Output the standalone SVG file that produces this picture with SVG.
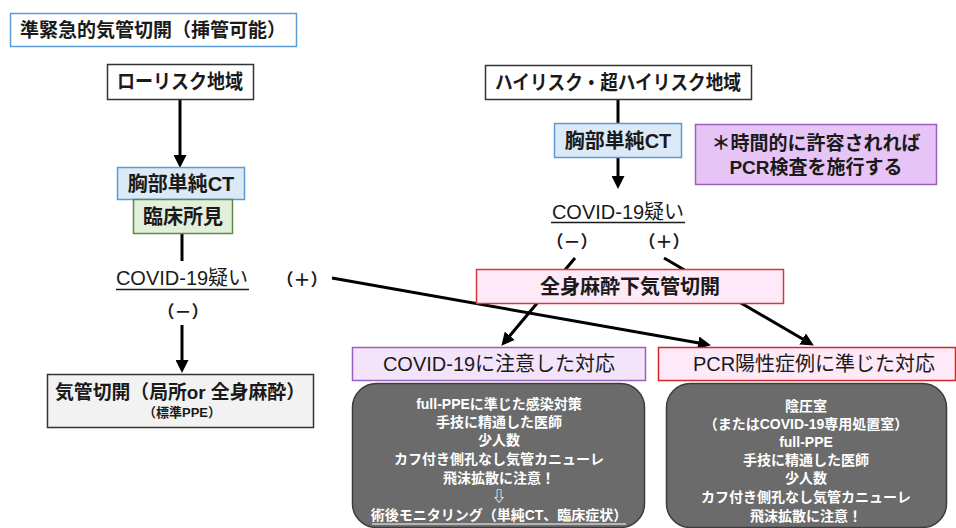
<svg xmlns="http://www.w3.org/2000/svg" width="956" height="528" viewBox="0 0 956 528">
<defs>
<marker id="ah" markerUnits="userSpaceOnUse" markerWidth="13" markerHeight="13" refX="8" refY="6.5" orient="auto">
<path d="M0,0 L13,6.5 L0,13 z" fill="#000"/>
</marker>
<style>
text{font-family:"Liberation Sans","Noto Sans CJK JP",sans-serif;fill:#1a1a1a;text-anchor:middle;dominant-baseline:central}
.b{font-weight:bold}
.m{font-size:20px}
.p{font-size:17px;font-weight:bold;font-family:"Noto Sans CJK JP",sans-serif}
.g{font-size:14px;font-weight:bold;fill:#fff}
.conn line{stroke:#000;stroke-width:3}
.arr{marker-end:url(#ah)}
.gray{fill:#6b6b6b;stroke:#3c3c3c;stroke-width:1.5}
</style>
</defs>
<rect width="956" height="528" fill="#fff"/>

<g id="connectors" class="conn">
<line x1="180" y1="99" x2="180" y2="163" class="arr"/>
<line x1="182" y1="233" x2="182" y2="261"/>
<line x1="182" y1="325" x2="182" y2="368" class="arr"/>
<line x1="618" y1="99" x2="618" y2="123"/>
<line x1="618" y1="157" x2="618" y2="184" class="arr"/>
<line x1="332" y1="278" x2="706" y2="344.3" class="arr"/>
<line x1="575" y1="258" x2="504.6" y2="341.9" class="arr"/>
<line x1="664" y1="258" x2="809.5" y2="343" class="arr"/>
</g>

<g id="title">
<rect x="10.5" y="13.5" width="286" height="33" fill="#fff" stroke="#5b9bd5" stroke-width="1.5"/>
<text x="153" y="30" class="b" font-size="19">準緊急的気管切開（挿管可能）</text>
</g>

<g id="low-risk">
<rect x="107.5" y="64.5" width="146" height="35" fill="#fff" stroke="#333" stroke-width="1.5"/>
<text x="180" y="82" class="b m" textLength="126" lengthAdjust="spacingAndGlyphs">ローリスク地域</text>
</g>

<g id="ct-left">
<rect x="117.5" y="167.5" width="127" height="32" fill="#dce9f7" stroke="#5b9bd5" stroke-width="1.5"/>
<text x="181" y="184" class="b m">胸部単純CT</text>
</g>

<g id="clinical">
<rect x="133.5" y="199.5" width="99" height="34" fill="#e2efda" stroke="#5d8a4a" stroke-width="1.5"/>
<text x="183" y="216.5" class="b m">臨床所見</text>
</g>

<g id="suspect-left">
<text x="182" y="278" class="m">COVID-19疑い</text>
<line x1="116" y1="289.5" x2="249" y2="289.5" stroke="#1a1a1a" stroke-width="1.5"/>
<text x="302" y="278" class="p">（＋）</text>
<text x="183" y="310" class="p">（－）</text>
</g>

<g id="trach-left">
<rect x="47.5" y="374.5" width="266" height="53" fill="#f2f2f2" stroke="#333" stroke-width="1.5"/>
<text x="180" y="392" class="b" font-size="19" textLength="250" lengthAdjust="spacingAndGlyphs">気管切開（局所or 全身麻酔）</text>
<text x="182" y="412" class="b" font-size="13">（標準PPE）</text>
</g>

<g id="high-risk">
<rect x="485.5" y="65.5" width="266" height="34" fill="#fff" stroke="#333" stroke-width="1.5"/>
<text x="618" y="82.5" class="b m" textLength="246" lengthAdjust="spacingAndGlyphs">ハイリスク・超ハイリスク地域</text>
</g>

<g id="ct-right">
<rect x="554.5" y="123.5" width="127" height="34" fill="#dce9f7" stroke="#5b9bd5" stroke-width="1.5"/>
<text x="618" y="140.5" class="b m">胸部単純CT</text>
</g>

<g id="pcr-note">
<rect x="695.5" y="124.5" width="241" height="60" fill="#e6c4f5" stroke="#9b5fc0" stroke-width="1.5"/>
<text x="816" y="143" class="b" font-size="19">＊時間的に許容されれば</text>
<text x="816" y="167" class="b" font-size="19">PCR検査を施行する</text>
</g>

<g id="suspect-right">
<text x="618" y="212" class="m">COVID-19疑い</text>
<line x1="551" y1="222.5" x2="685" y2="222.5" stroke="#1a1a1a" stroke-width="1.5"/>
<text x="572" y="240" class="p">（－）</text>
<text x="664" y="240" class="p">（＋）</text>
</g>

<g id="general-anesthesia">
<rect x="476.5" y="269.5" width="307" height="34" fill="#fde9f7" stroke="#d23a3a" stroke-width="1.5"/>
<text x="630" y="286.5" class="b m">全身麻酔下気管切開</text>
</g>

<g id="covid-care">
<rect x="352.5" y="347.5" width="293" height="33" fill="#f3e4fb" stroke="#9b5fc0" stroke-width="1.5"/>
<text x="499" y="364" class="m">COVID-19に注意した対応</text>
</g>

<g id="pcr-care">
<rect x="658.5" y="347.5" width="297" height="33" fill="#fde9f7" stroke="#d02828" stroke-width="1.5"/>
<text x="814" y="364" class="m">PCR陽性症例に準じた対応</text>
</g>

<g id="covid-detail">
<rect x="352.5" y="383.5" width="292" height="144" rx="24" class="gray"/>
<text x="499" y="404" class="g">full-PPEに準じた感染対策</text>
<text x="499" y="422" class="g">手技に精通した医師</text>
<text x="499" y="440" class="g">少人数</text>
<text x="499" y="459" class="g">カフ付き側孔なし気管カニューレ</text>
<text x="499" y="478" class="g">飛沫拡散に注意！</text>
<text x="499" y="496" class="g">⇩</text>
<text x="499" y="515" class="g">術後モニタリング（単純CT、臨床症状）</text>
<line x1="372" y1="524" x2="626" y2="524" stroke="#fff" stroke-width="1.2"/>
</g>

<g id="pcr-detail">
<rect x="666.5" y="383.5" width="280" height="144" rx="24" class="gray"/>
<text x="806" y="406" class="g">陰圧室</text>
<text x="806" y="424" class="g">（またはCOVID-19専用処置室）</text>
<text x="806" y="442" class="g">full-PPE</text>
<text x="806" y="460" class="g">手技に精通した医師</text>
<text x="806" y="478" class="g">少人数</text>
<text x="806" y="497" class="g">カフ付き側孔なし気管カニューレ</text>
<text x="806" y="516" class="g">飛沫拡散に注意！</text>
</g>
</svg>
